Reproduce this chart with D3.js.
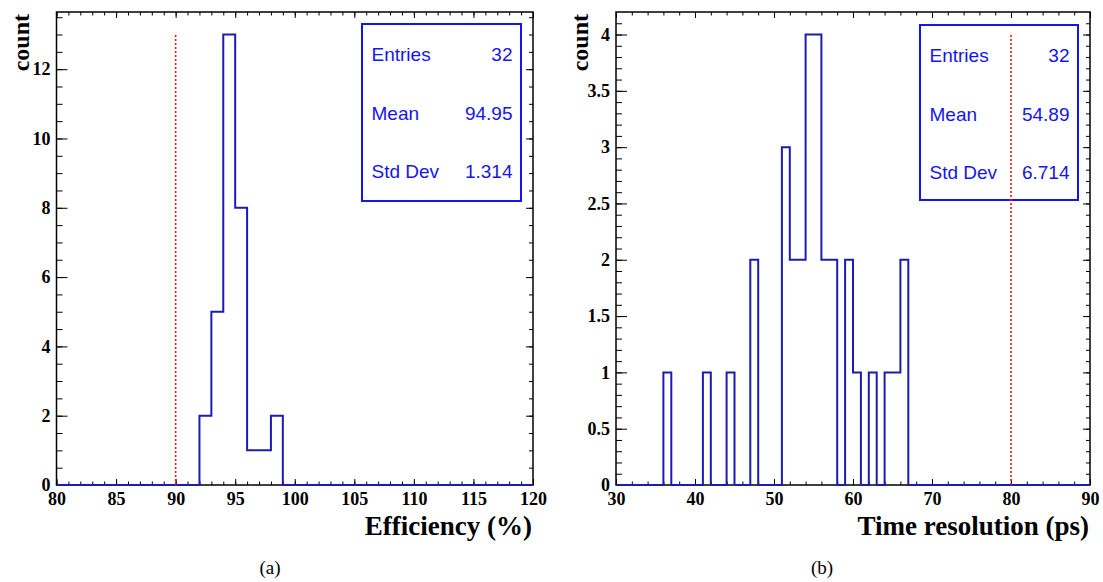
<!DOCTYPE html>
<html>
<head>
<meta charset="utf-8">
<script src="https://cdn.jsdelivr.net/npm/d3@7"></script>
<style>
  body { margin: 0; background: #ffffff; }
  svg { display: block; }
  .tick text { font-family: "Liberation Serif", "Times New Roman", serif; font-weight: bold; font-size: 18px; fill: #000; }
  .tick line { stroke: #000; stroke-width: 1; }
  .domain { display: none; }
</style>
</head>
<body>
<div id="chart"></div>
<script>
// Efficiency histogram (bin width 1, 80..120)
var effBins = [92, 93, 94, 95, 96, 97, 98];
var effCounts = [2, 5, 13, 8, 1, 1, 2];
var effStats = ["32", "94.95", "1.314"];

// Time resolution histogram (bin width 1, 30..90)
var timeBins = [36, 41, 44, 47, 51, 52, 53, 54, 55, 56, 57, 59, 60, 62, 64, 65, 66];
var timeCounts = [1, 1, 1, 2, 3, 2, 2, 4, 4, 2, 2, 2, 1, 1, 1, 1, 2];
var timeStats = ["32", "54.89", "6.714"];

var statNames = ["Entries", "Mean", "Std Dev"];

var width = 1103, height = 582;
var svg = d3.select("#chart").append("svg")
    .attr("width", width)
    .attr("height", height);

var histColor = "#1c1cb0",
    statColor = "#1515f0";

var panels = [
  {
    left: 56.5, right: 533, top: 12, bottom: 485,
    xDom: [80, 120], yDom: [0, 13.65],
    xMajor: d3.range(80, 121, 5), xMinor: d3.range(80, 121, 1),
    yMajor: d3.range(0, 13, 2), yMinor: d3.range(0, 13.6, 0.5),
    bins: effBins, counts: effCounts, stats: effStats,
    cut: 90, cutTop: 13,
    box: { x: 362, y: 24, w: 159, h: 177 },
    title: "Efficiency (%)", caption: "(a)", captionX: 270
  },
  {
    left: 616, right: 1090, top: 12, bottom: 485,
    xDom: [30, 90], yDom: [0, 4.2],
    xMajor: d3.range(30, 91, 10), xMinor: d3.range(30, 91, 2),
    yMajor: d3.range(0, 4.01, 0.5), yMinor: d3.range(0, 42).map(function(d) { return d / 10; }),
    bins: timeBins, counts: timeCounts, stats: timeStats,
    cut: 80, cutTop: 4,
    box: { x: 920, y: 25, w: 158, h: 175 },
    title: "Time resolution (ps)", caption: "(b)", captionX: 822
  }
];

panels.forEach(function(p) {
  var x = d3.scaleLinear().domain(p.xDom).range([p.left, p.right]);
  var y = d3.scaleLinear().domain(p.yDom).range([p.bottom, p.top]);
  var g = svg.append("g");

  // bottom axis (labels + inside ticks)
  g.append("g")
      .attr("transform", "translate(0," + p.bottom + ")")
      .call(d3.axisBottom(x).tickValues(p.xMinor).tickSize(-3.5).tickFormat(""));
  g.append("g")
      .attr("transform", "translate(0," + p.bottom + ")")
      .call(d3.axisBottom(x).tickValues(p.xMajor).tickSize(-6).tickPadding(7)
        .tickFormat(function(d) { return d; }));

  // top axis (ticks only)
  g.append("g")
      .attr("transform", "translate(0," + p.top + ")")
      .call(d3.axisTop(x).tickValues(p.xMinor).tickSize(-3.5).tickFormat(""));
  g.append("g")
      .attr("transform", "translate(0," + p.top + ")")
      .call(d3.axisTop(x).tickValues(p.xMajor).tickSize(-6).tickFormat(""));

  // left axis
  g.append("g")
      .attr("transform", "translate(" + p.left + ",0)")
      .call(d3.axisLeft(y).tickValues(p.yMinor).tickSize(-6).tickFormat(""));
  g.append("g")
      .attr("transform", "translate(" + p.left + ",0)")
      .call(d3.axisLeft(y).tickValues(p.yMajor).tickSize(-11).tickPadding(6)
        .tickFormat(function(d) { return d; }));

  // right axis (ticks only)
  g.append("g")
      .attr("transform", "translate(" + p.right + ",0)")
      .call(d3.axisRight(y).tickValues(p.yMinor).tickSize(-4).tickFormat(""));
  g.append("g")
      .attr("transform", "translate(" + p.right + ",0)")
      .call(d3.axisRight(y).tickValues(p.yMajor).tickSize(-7).tickFormat(""));

  // frame
  g.append("rect")
      .attr("x", p.left)
      .attr("y", p.top)
      .attr("width", p.right - p.left)
      .attr("height", p.bottom - p.top)
      .attr("fill", "none")
      .attr("stroke", "#000")
      .attr("stroke-width", 1.5);

  // histogram outline, zero outside filled bins
  var pts = [];
  for (var b = p.xDom[0]; b < p.xDom[1]; b++) {
    var i = p.bins.indexOf(b);
    var c = i >= 0 ? p.counts[i] : 0;
    pts.push([b, c], [b + 1, c]);
  }
  var line = d3.line()
      .x(function(d) { return x(d[0]); })
      .y(function(d) { return y(d[1]); });
  g.append("path")
      .attr("d", line(pts))
      .attr("fill", "none")
      .attr("stroke", histColor)
      .attr("stroke-width", 2);

  // stat box
  g.append("rect")
      .attr("x", p.box.x)
      .attr("y", p.box.y)
      .attr("width", p.box.w)
      .attr("height", p.box.h)
      .attr("fill", "#fff")
      .attr("stroke", statColor)
      .attr("stroke-width", 2);

  // red cut line
  g.append("line")
      .attr("x1", x(p.cut)).attr("x2", x(p.cut))
      .attr("y1", y(0)).attr("y2", y(p.cutTop))
      .attr("stroke", "#ff1010")
      .attr("stroke-width", 1.6)
      .attr("stroke-dasharray", "2,2");

  var rowY = [p.box.y + 37, p.box.y + 96, p.box.y + 154];
  statNames.forEach(function(name, k) {
    g.append("text")
        .attr("x", p.box.x + 9.5)
        .attr("y", rowY[k])
        .attr("font-family", "Liberation Sans, Arial, sans-serif")
        .attr("font-size", "19px")
        .attr("fill", statColor)
        .text(name);
    g.append("text")
        .attr("x", p.box.x + p.box.w - 8.5)
        .attr("y", rowY[k])
        .attr("text-anchor", "end")
        .attr("font-family", "Liberation Sans, Arial, sans-serif")
        .attr("font-size", "19px")
        .attr("fill", statColor)
        .text(p.stats[k]);
  });

  // axis titles
  g.append("text")
      .attr("x", p.right - 1)
      .attr("y", 535)
      .attr("text-anchor", "end")
      .attr("font-family", "Liberation Serif, Times New Roman, serif")
      .attr("font-weight", "bold")
      .attr("font-size", "27px")
      .text(p.title);

  g.append("text")
      .attr("transform", "translate(" + (p.left - 28) + "," + (p.top + 2) + ") rotate(-90)")
      .attr("text-anchor", "end")
      .attr("font-family", "Liberation Serif, Times New Roman, serif")
      .attr("font-weight", "bold")
      .attr("font-size", "24px")
      .text("count");

  // caption
  g.append("text")
      .attr("x", p.captionX)
      .attr("y", 574)
      .attr("text-anchor", "middle")
      .attr("font-family", "Liberation Serif, Times New Roman, serif")
      .attr("font-size", "19px")
      .text(p.caption);
});
</script>
</body>
</html>
